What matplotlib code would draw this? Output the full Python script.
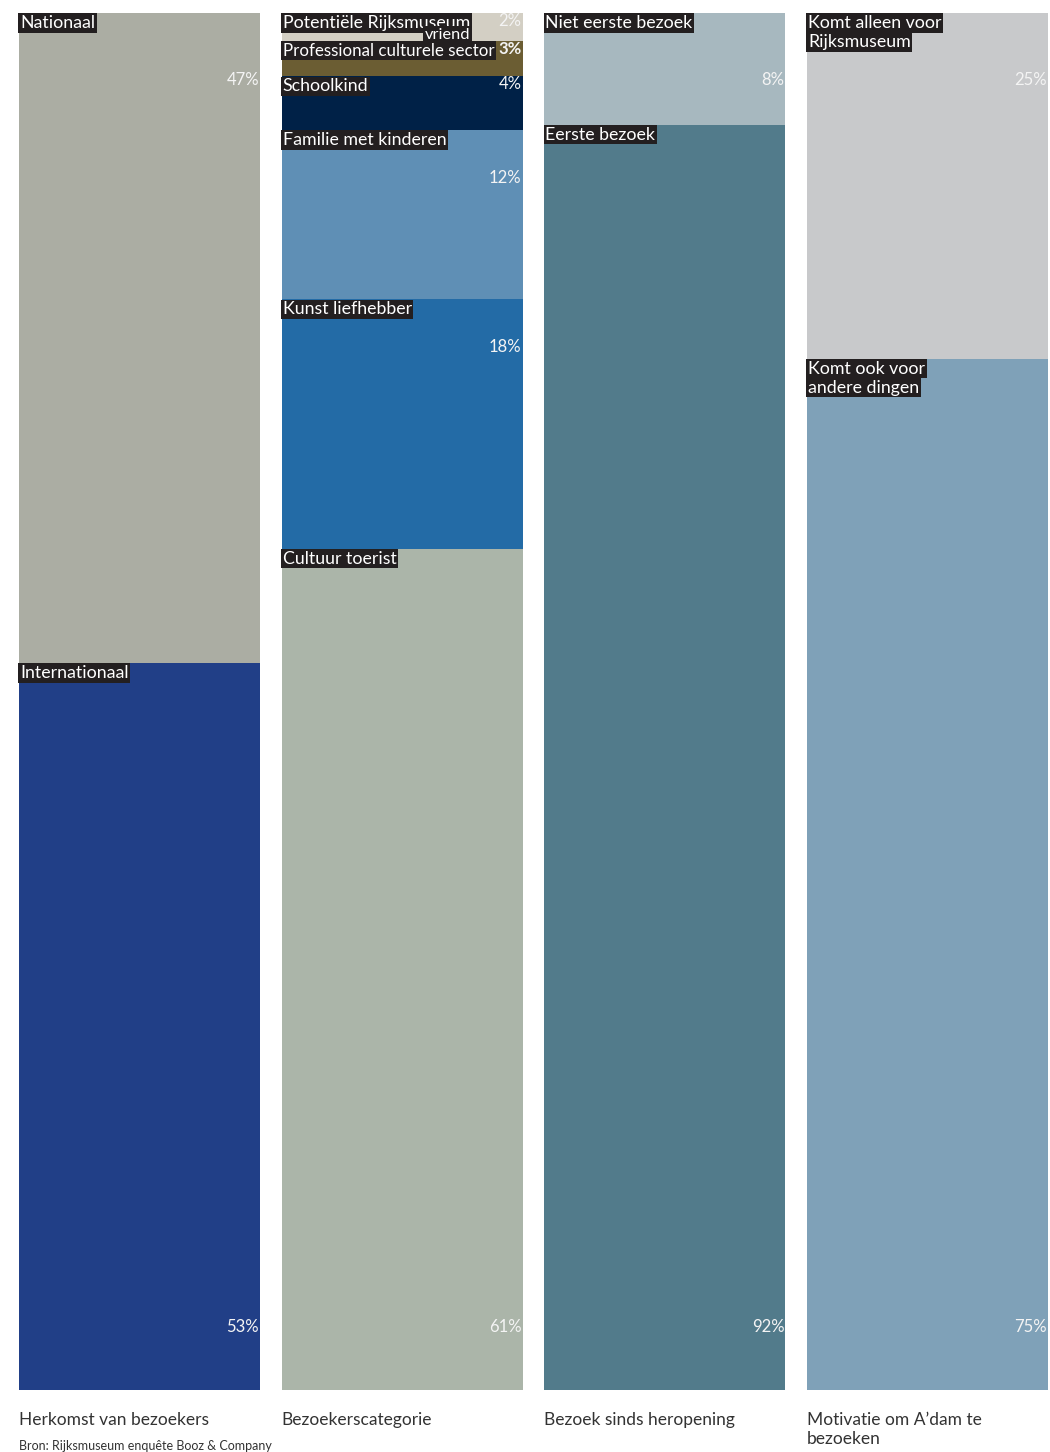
import matplotlib
matplotlib.use('Agg')
import matplotlib.pyplot as plt

plt.rcParams['font.family'] = ['Lato', 'DejaVu Sans']

# data: each column top to bottom, percentages
titles = ['Herkomst van bezoekers', 'Bezoekerscategorie', 'Bezoek sinds heropening',
          'Motivatie om A\u2019dam te\nbezoeken']
labels = [
    ['Nationaal', 'Internationaal'],
    ['Potenti\u00eble Rijksmuseum\nvriend', 'Professional culturele sector', 'Schoolkind',
     'Familie met kinderen', 'Kunst liefhebber', 'Cultuur toerist'],
    ['Niet eerste bezoek', 'Eerste bezoek'],
    ['Komt alleen voor\nRijksmuseum', 'Komt ook voor\nandere dingen'],
]
values = [
    [47.2, 52.8],
    [2.0, 2.6, 3.9, 12.3, 18.1, 61.1],
    [8.1, 91.9],
    [25.1, 74.9],
]
colors = [
    ['#abada3', '#213f87'],
    ['#d3cfc4', '#6b5d33', '#002147', '#5f8fb5', '#236ba6', '#abb5a9'],
    ['#a7b8bf', '#527b8b'],
    ['#c8c9cb', '#7fa1b8'],
]
source = 'Bron: Rijksmuseum enqu\u00eate Booz & Company'

W, H = 1050, 1452
fig = plt.figure(figsize=(W / 100, H / 100), dpi=100)
left, right, top, bottom = 19, 1048, 13, 1390
ax = fig.add_axes([left / W, (H - bottom) / H, (right - left) / W, (bottom - top) / H])

bw = 241 / 262.67
ax.set_xlim(-bw / 2, 3 + bw / 2)
ax.set_ylim(100, 0)
ax.axis('off')

box = dict(facecolor='#231f20', edgecolor='none', pad=1.2)
pct_off = [67, 48, 67, 67]
fs = 12.8

fig.canvas.draw()
r = fig.canvas.get_renderer()

for i in range(4):
    y0 = 0
    n = len(values[i])
    for j in range(n):
        v = values[i][j]
        ax.bar(i, v, bw, bottom=y0, color=colors[i][j], align='center')
        xl = i - bw / 2
        xr = i + bw / 2

        # percentage
        if j == n - 1:
            yp, off = y0 + v, 63
        elif v < 5:
            yp, off = y0, -8
        else:
            yp, off = y0, -pct_off[i]
        p = ax.annotate('%d%%' % round(v), (xr, yp), xytext=(-1, off), textcoords='offset pixels',
                        ha='right', va='center', color='#f4f4f4', fontsize=12,
                        fontweight='bold' if j == 1 and i == 1 else 'normal')
        p_left = p.get_window_extent(r).x0

        lines = labels[i][j].split('\n')
        if labels[i][j].startswith('Potenti'):
            t = ax.annotate(lines[0], (xl, y0), xytext=(1, -2), textcoords='offset pixels',
                            ha='left', va='top', color='white', fontsize=fs, bbox=box)
            bb = t.get_window_extent(r)
            x_end = ax.transData.inverted().transform((bb.x1, 0))[0]
            ax.annotate(lines[1], (x_end, y0), xytext=(0, -15), textcoords='offset pixels',
                        ha='right', va='top', color='white', fontsize=fs - 1, bbox=box)
        else:
            for k, ln in enumerate(lines):
                t = ax.annotate(ln, (xl, y0), xytext=(1, -2 - 19 * k), textcoords='offset pixels',
                                ha='left', va='top', color='white', fontsize=fs, bbox=box)
                # shrink a label that would run into its percentage
                size = fs
                while v < 5 and t.get_window_extent(r).x1 > p_left - 4 and size > 8:
                    size -= 0.2
                    t.set_fontsize(size)
        y0 += v
    fig.text((left + i * 262.67) / W, 1 - 1412 / H, titles[i], ha='left', va='top',
             fontsize=12.5, color='#333333', linespacing=1.25)

fig.text(left / W, 1 - 1440 / H, source, ha='left', va='top', fontsize=9, color='#333333')

fig.savefig('out.png', dpi=100)
